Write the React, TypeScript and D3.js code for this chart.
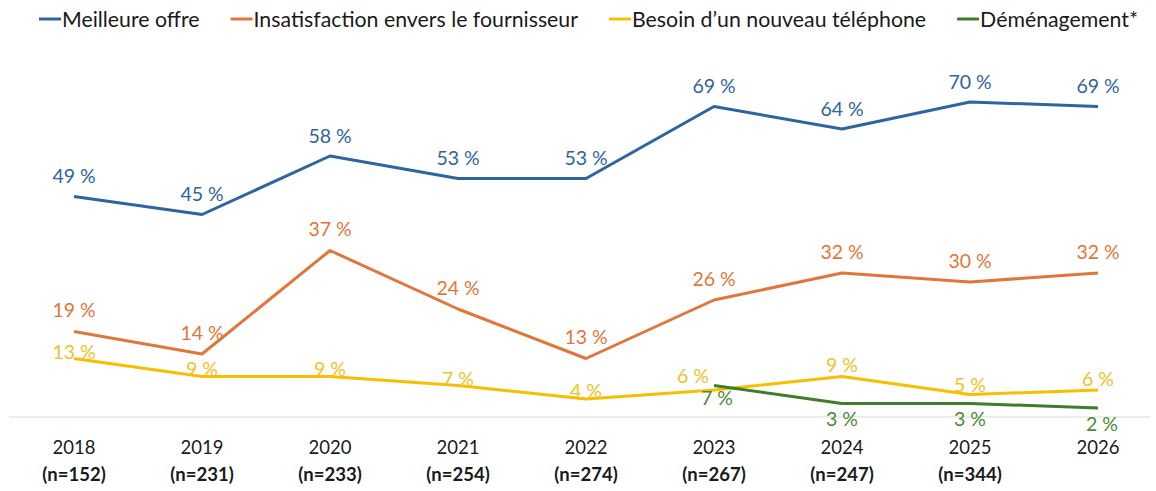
import React, { useEffect, useRef } from "react";
import * as d3 from "d3";

const years = ["2018", "2019", "2020", "2021", "2022", "2023", "2024", "2025", "2026"];
const sampleSizes = ["(n=152)", "(n=231)", "(n=233)", "(n=254)", "(n=274)", "(n=267)", "(n=247)", "(n=344)", ""];
const meilleureOffre = [49, 45, 58, 53, 53, 69, 64, 70, 69];
const insatisfaction = [19, 14, 37, 24, 13, 26, 32, 30, 32];
const besoinTelephone = [13, 9, 9, 7, 4, 6, 9, 5, 6];
const demenagement: (number | null)[] = [null, null, null, null, null, 7, 3, 3, 2];

// label placement offsets (px) — presentation only
const blueDy = [-21, -21, -21, -21, -21, -21, -21, -21, -21];
const orangeDy = [-22, -22, -22, -22, -22, -22, -22, -22, -22];
const yellowDy = [-7, -8, -8, -7, -9, -15, -12, -10, -12];
const yellowDx = [0, 0, 0, 0, 0, -21, 0, 0, 0];
const greenDy = [0, 0, 0, 0, 0, 12, 15, 15, 15];
const greenDx = [0, 0, 0, 0, 0, 3, 0, 0, 4];

const FONT = "Lato, 'Open Sans', sans-serif";

const series = [
  { name: "Meilleure offre", values: meilleureOffre as (number | null)[], color: "#2E64A0", labelColor: "#2E64A0", dy: blueDy, dx: null as number[] | null },
  { name: "Insatisfaction envers le fournisseur", values: insatisfaction as (number | null)[], color: "#E2763A", labelColor: "#E2763A", dy: orangeDy, dx: null },
  { name: "Besoin d\u2019un nouveau téléphone", values: besoinTelephone as (number | null)[], color: "#F7BF00", labelColor: "#EFC12A", dy: yellowDy, dx: yellowDx },
  { name: "Déménagement*", values: demenagement, color: "#3E7D2B", labelColor: "#4A8A35", dy: greenDy, dx: greenDx },
];

export default function App() {
  const ref = useRef<SVGSVGElement>(null);

  useEffect(() => {
    const svg = d3.select(ref.current);
    svg.selectAll("*").remove();

    const x = d3.scalePoint<string>().domain(years).range([74, 1098]);
    const y = d3.scaleLinear().domain([0, 80]).range([417, 57]);

    // baseline gridline
    svg.append("line")
      .attr("x1", 9).attr("x2", 1150)
      .attr("y1", y(0)).attr("y2", y(0))
      .attr("stroke", "#D9D9D9").attr("stroke-width", 1);

    // x axis labels
    const xg = svg.append("g");
    xg.selectAll("text.year").data(years).join("text")
      .attr("class", "year")
      .attr("x", (d) => x(d)!)
      .attr("y", 447)
      .attr("text-anchor", "middle")
      .attr("dominant-baseline", "central")
      .attr("font-family", FONT)
      .attr("font-size", 18.5)
      .attr("fill", "#1a1a1a")
      .text((d) => d);
    xg.selectAll("text.n").data(years).join("text")
      .attr("class", "n")
      .attr("x", (d) => x(d)!)
      .attr("y", 474)
      .attr("text-anchor", "middle")
      .attr("dominant-baseline", "central")
      .attr("font-family", FONT)
      .attr("font-size", 18.5)
      .attr("font-weight", "bold")
      .attr("fill", "#1a1a1a")
      .text((_, i) => sampleSizes[i]);

    // lines
    series.forEach((s) => {
      const pts = years
        .map((yr, i) => ({ yr, v: s.values[i], i }))
        .filter((p) => p.v !== null) as { yr: string; v: number; i: number }[];
      const line = d3.line<{ yr: string; v: number }>()
        .x((p) => x(p.yr)!)
        .y((p) => y(p.v));
      svg.append("path")
        .datum(pts)
        .attr("d", line)
        .attr("fill", "none")
        .attr("stroke", s.color)
        .attr("stroke-width", 3)
        .attr("stroke-linejoin", "round");
    });

    // labels
    series.forEach((s) => {
      const pts = years
        .map((yr, i) => ({ yr, v: s.values[i], i }))
        .filter((p) => p.v !== null) as { yr: string; v: number; i: number }[];
      svg.append("g").selectAll("text").data(pts).join("text")
        .attr("x", (p) => x(p.yr)! + (s.dx ? s.dx[p.i] : 0))
        .attr("y", (p) => y(p.v) + s.dy[p.i])
        .attr("text-anchor", "middle")
        .attr("dominant-baseline", "central")
        .attr("font-family", FONT)
        .attr("font-size", 19.5)
        .attr("fill", s.labelColor)
        .text((p) => `${p.v} %`);
    });

    // legend
    const lg = svg.append("g");
    let cx = 39;
    series.forEach((s) => {
      lg.append("line")
        .attr("x1", cx).attr("x2", cx + 22)
        .attr("y1", 19).attr("y2", 19)
        .attr("stroke", s.color).attr("stroke-width", 3);
      const t = lg.append("text")
        .attr("x", cx + 23)
        .attr("y", 19)
        .attr("dominant-baseline", "central")
        .attr("font-family", FONT)
        .attr("font-size", 21.3)
        .attr("fill", "#1a1a1a")
        .text(s.name);
      const w = (t.node() as SVGTextElement).getComputedTextLength();
      cx = cx + 23 + w + 31;
    });
  }, []);

  return (
    <svg
      ref={ref}
      width={1156}
      height={491}
      style={{ position: "absolute", left: 0, top: 0, background: "#fff" }}
    />
  );
}
